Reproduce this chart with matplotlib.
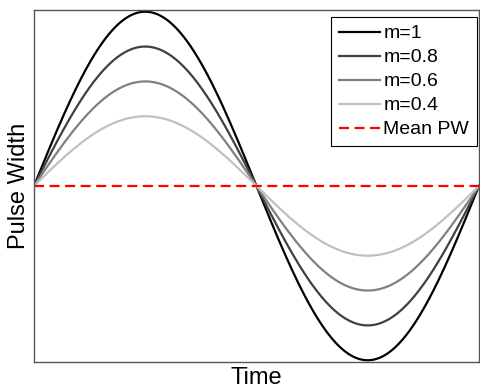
import numpy as np
import matplotlib
matplotlib.use("Agg")
import matplotlib.pyplot as plt

plt.rcParams['font.family'] = ['Liberation Sans', 'DejaVu Sans']

m_values = [1, 0.8, 0.6, 0.4]
labels = ["m=1", "m=0.8", "m=0.6", "m=0.4"]
colors = ["#000000", "#404040", "#808080", "#c0c0c0"]
mean_label = "Mean PW"

t = np.linspace(0, 2 * np.pi, 500)

fig = plt.figure(figsize=(4.8, 3.89), dpi=100)
ax = fig.add_axes([0.0708, 0.0694, 0.927, 0.905])
for m, lab, c in zip(m_values, labels, colors):
    ax.plot(t, m * np.sin(t), color=c, lw=1.6, label=lab)
ax.plot(t, np.zeros_like(t), color="#ff0000", lw=1.6, ls=(0, (4.5, 2.5)), label=mean_label)

ax.set_xlim(0, 2 * np.pi)
ax.set_ylim(-1.01, 1.01)
ax.set_xticks([])
ax.set_yticks([])
for s in ax.spines.values():
    s.set_color("#555555")
    s.set_linewidth(1.0)
ax.set_xlabel("Time", fontsize=17, labelpad=3.5)
ax.set_ylabel("Pulse Width", fontsize=17, labelpad=3)

leg = ax.legend(loc="upper right", bbox_to_anchor=(0.9955, 0.980), fontsize=14,
                handlelength=2.1, handletextpad=0.2,
                borderaxespad=0, fancybox=False, framealpha=1, edgecolor="black",
                labelspacing=0.33, borderpad=0.4)
leg.get_frame().set_linewidth(0.8)

fig.savefig("out.png", dpi=100)
